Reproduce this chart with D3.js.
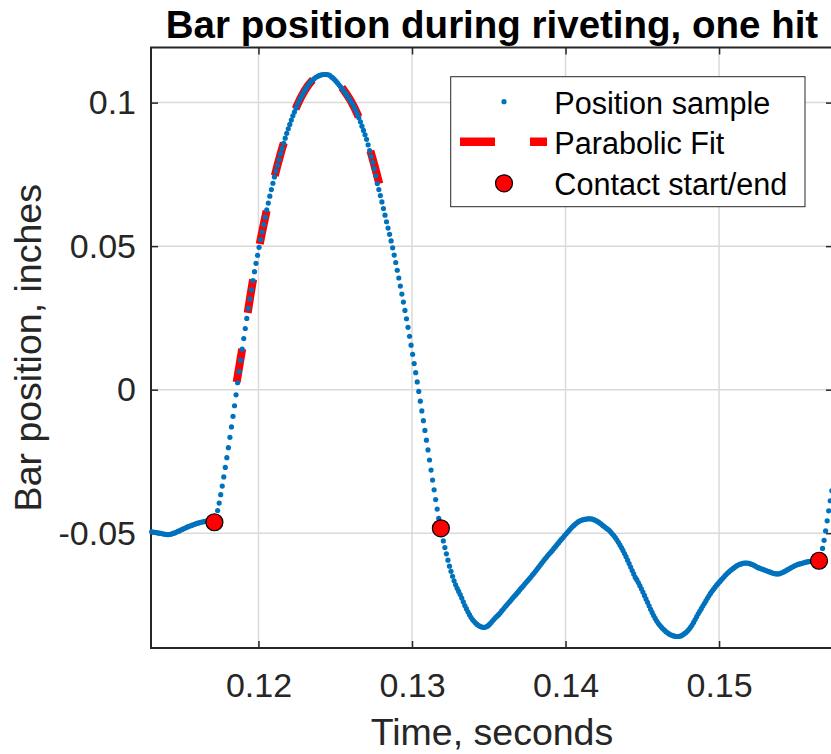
<!DOCTYPE html>
<html lang="en">
<head>
<meta charset="utf-8">
<title>Bar position during riveting, one hit</title>
<script src="https://d3js.org/d3.v7.min.js"></script>
<style>
body{margin:0;background:#fff;}
svg{display:block;font-family:"Liberation Sans", Arial, Helvetica, sans-serif;}
</style>
</head>
<body>
<script>
// position samples (inches), taken every 0.1 ms starting at sampleStart
var sampleStart = 0.11304,
    sampleStep = 0.0001;

var positionValues = [
  -0.0495,-0.0496,-0.0497,-0.0498,-0.0499,-0.0500,-0.0501,-0.0502,-0.0503,-0.0504,
  -0.0505,-0.0505,-0.0504,-0.0503,-0.0501,-0.0499,-0.0497,-0.0494,-0.0492,-0.0489,
  -0.0487,-0.0484,-0.0482,-0.0479,-0.0477,-0.0475,-0.0473,-0.0471,-0.0469,-0.0467,
  -0.0465,-0.0464,-0.0462,-0.0461,-0.0460,-0.0459,-0.0458,-0.0458,-0.0458,-0.0459,
  -0.0460,-0.0462,
  -0.0445,-0.0421,-0.0395,-0.0366,-0.0336,-0.0304,-0.0271,-0.0237,
  -0.0202,-0.0166,-0.0130,-0.0093,-0.0056,-0.0018,
  0.0024,0.0063,0.0102,0.0141,0.0178,0.0213,0.0248,0.0283,0.0316,0.0348,
  0.0380,0.0411,0.0440,0.0468,0.0496,0.0523,0.0549,0.0575,0.0601,0.0626,
  0.0650,0.0674,0.0697,0.0719,0.0741,0.0762,0.0782,0.0802,0.0822,0.0840,
  0.0858,0.0876,0.0893,0.0909,0.0924,0.0939,0.0954,0.0967,0.0980,0.0993,
  0.1005,0.1016,0.1026,0.1036,0.1045,0.1053,0.1061,0.1068,0.1074,0.1079,
  0.1084,0.1088,0.1091,0.1094,0.1096,0.1097,0.1098,0.1098,0.1098,
  0.1097,0.1095,0.1090,0.1086,0.1081,0.1075,0.1069,0.1062,0.1056,0.1049,
  0.1042,0.1035,0.1027,0.1019,0.1011,0.1002,0.0993,0.0983,0.0972,0.0960,
  0.0947,0.0933,0.0918,0.0903,0.0888,0.0872,0.0853,0.0833,0.0812,0.0791,
  0.0770,0.0745,0.0718,
  0.0697,0.0676,0.0654,0.0631,0.0608,0.0585,0.0563,0.0541,0.0518,0.0494,
  0.0469,0.0443,0.0416,0.0389,0.0361,0.0333,0.0305,0.0276,0.0247,0.0217,
  0.0186,0.0155,0.0123,0.0091,0.0059,0.0027,-0.0006,-0.0040,-0.0074,-0.0108,
  -0.0142,-0.0176,-0.0210,-0.0245,-0.0280,-0.0315,-0.0349,-0.0383,-0.0416,-0.0448,
  -0.0478,-0.0505,
  -0.0527,-0.0550,-0.0572,-0.0594,-0.0615,-0.0633,-0.0650,-0.0666,-0.0680,-0.0692,
  -0.0703,-0.0714,-0.0726,-0.0739,-0.0752,-0.0763,-0.0774,-0.0784,-0.0793,-0.0801,
  -0.0807,-0.0813,-0.0818,-0.0822,-0.0825,-0.0827,-0.0828,-0.0828,-0.0826,-0.0823,
  -0.0818,-0.0812,-0.0806,-0.0800,-0.0794,-0.0789,-0.0784,-0.0778,-0.0771,-0.0765,
  -0.0758,-0.0752,-0.0746,-0.0740,-0.0734,-0.0727,-0.0721,-0.0715,-0.0709,-0.0703,
  -0.0696,-0.0690,-0.0684,-0.0677,-0.0671,-0.0665,-0.0659,-0.0653,-0.0646,-0.0640,
  -0.0633,-0.0626,-0.0619,-0.0612,-0.0605,-0.0598,-0.0591,-0.0585,-0.0578,-0.0572,
  -0.0566,-0.0560,-0.0553,-0.0547,-0.0540,-0.0534,-0.0527,-0.0521,-0.0515,-0.0508,
  -0.0502,-0.0496,-0.0490,-0.0484,-0.0478,-0.0473,-0.0468,-0.0464,-0.0460,-0.0457,
  -0.0455,-0.0453,-0.0452,-0.0451,-0.0450,-0.0450,-0.0450,-0.0451,-0.0453,-0.0455,
  -0.0458,-0.0461,-0.0465,-0.0469,-0.0474,-0.0478,-0.0482,-0.0486,-0.0490,-0.0496,
  -0.0502,-0.0508,-0.0515,-0.0523,-0.0532,-0.0541,-0.0550,-0.0560,-0.0571,-0.0582,
  -0.0594,-0.0606,-0.0618,-0.0630,-0.0642,-0.0654,-0.0662,-0.0672,-0.0683,-0.0694,
  -0.0705,-0.0717,-0.0729,-0.0741,-0.0753,-0.0765,-0.0776,-0.0787,-0.0797,-0.0806,
  -0.0814,-0.0821,-0.0827,-0.0833,-0.0838,-0.0843,-0.0847,-0.0851,-0.0854,-0.0856,
  -0.0858,-0.0859,-0.0860,-0.0860,-0.0859,-0.0857,-0.0854,-0.0850,-0.0846,-0.0841,
  -0.0835,-0.0828,-0.0820,-0.0811,-0.0801,-0.0791,-0.0781,-0.0772,-0.0763,-0.0754,
  -0.0745,-0.0736,-0.0727,-0.0718,-0.0710,-0.0702,-0.0695,-0.0688,-0.0681,-0.0675,
  -0.0669,-0.0663,-0.0657,-0.0651,-0.0645,-0.0640,-0.0635,-0.0630,-0.0626,-0.0622,
  -0.0618,-0.0614,-0.0611,-0.0609,-0.0607,-0.0605,-0.0604,-0.0604,-0.0604,-0.0605,
  -0.0607,-0.0609,-0.0611,-0.0614,-0.0617,-0.0620,-0.0622,-0.0624,-0.0626,-0.0628,
  -0.0630,-0.0632,-0.0634,-0.0636,-0.0638,-0.0640,-0.0641,-0.0642,-0.0642,-0.0641,
  -0.0639,-0.0637,-0.0634,-0.0631,-0.0628,-0.0625,-0.0622,-0.0619,-0.0616,-0.0613,
  -0.0611,-0.0609,-0.0607,-0.0606,-0.0604,-0.0603,-0.0601,-0.0600,-0.0599,-0.0598,
  -0.0597,-0.0597,-0.0596,-0.0596,-0.0596,-0.0594,-0.0575,-0.0553,-0.0525,-0.0492,
  -0.0457,-0.0422,-0.0387,-0.0352
];

// parabolic fit of the free flight part
var fitTimes  = [0.11858,0.1190,0.1195,0.1200,0.1205,0.1210,0.1215,0.1220,0.1225,0.1230,
                 0.1235,0.1240,0.1245,0.1250,0.1255,0.1260,0.1265,0.1270,0.1275,0.12795];
var fitValues = [0.0026,0.0163,0.0336,0.0485,0.0616,0.0732,0.0833,0.0918,0.0988,0.1041,
                 0.1077,0.1096,0.1098,0.1080,0.1048,0.1007,0.0953,0.0881,0.0792,0.0700];

// contact start / end
var contactTimes  = [0.11713, 0.13188, 0.15651];
var contactValues = [-0.0462, -0.0483, -0.0596];

var xTicks = [0.12, 0.13, 0.14, 0.15];
var yTicks = [-0.05, 0, 0.05, 0.1];
var legendLabels = ["Position sample", "Parabolic Fit", "Contact start/end"];

var width = 831, height = 754;
var box = {left: 151, right: 833, top: 47.5, bottom: 648};
var blue = "#0072BD", axisColor = "#262626";

var samples = positionValues.map(function(v, i) {
  return {t: sampleStart + i * sampleStep, v: v};
});
var fit = fitTimes.map(function(t, i) { return {t: t, v: fitValues[i]}; });
var contacts = contactTimes.map(function(t, i) { return {t: t, v: contactValues[i]}; });

var svg = d3.select("body").append("svg")
  .attr("width", width)
  .attr("height", height);

var x = d3.scaleLinear().domain([0.1130, 0.15742]).range([box.left, box.right]);
var y = d3.scaleLinear().domain([-0.09, 0.1192]).range([box.bottom, box.top]);

// grid
svg.append("g").selectAll("line").data(xTicks).enter().append("line")
  .attr("x1", function(d) { return x(d); }).attr("x2", function(d) { return x(d); })
  .attr("y1", box.top).attr("y2", box.bottom)
  .attr("stroke", "#dadada").attr("stroke-width", 1.5);
svg.append("g").selectAll("line").data(yTicks).enter().append("line")
  .attr("y1", function(d) { return y(d); }).attr("y2", function(d) { return y(d); })
  .attr("x1", box.left).attr("x2", box.right)
  .attr("stroke", "#dadada").attr("stroke-width", 1.5);

// axes (ticks pointing inward)
function styleAxis(g) {
  g.select(".domain").remove();
  g.selectAll(".tick line").attr("stroke", axisColor).attr("stroke-width", 1.5);
  g.selectAll(".tick text").attr("fill", axisColor).attr("font-size", 34)
    .attr("font-family", "'Liberation Sans', Arial, sans-serif");
}
svg.append("g").attr("transform", "translate(0," + box.bottom + ")")
  .call(d3.axisBottom(x).tickValues(xTicks).tickSizeInner(-7).tickSizeOuter(0)
    .tickPadding(25).tickFormat(function(d) { return d.toFixed(2); }))
  .call(styleAxis);
svg.append("g").attr("transform", "translate(0," + box.top + ")")
  .call(d3.axisTop(x).tickValues(xTicks).tickSizeInner(-7).tickSizeOuter(0).tickFormat(""))
  .call(styleAxis);
svg.append("g").attr("transform", "translate(" + box.left + ",0)")
  .call(d3.axisLeft(y).tickValues(yTicks).tickSizeInner(-7).tickSizeOuter(0)
    .tickPadding(15).tickFormat(function(d) { return String(d); }))
  .call(styleAxis);
svg.append("g").attr("transform", "translate(" + box.right + ",0)")
  .call(d3.axisRight(y).tickValues(yTicks).tickSizeInner(-7).tickSizeOuter(0).tickFormat(""))
  .call(styleAxis);

// box
svg.append("rect")
  .attr("x", box.left).attr("y", box.top)
  .attr("width", box.right - box.left).attr("height", box.bottom - box.top)
  .attr("fill", "none").attr("stroke", axisColor).attr("stroke-width", 2);

// parabolic fit, dashed red
var fitLine = d3.line()
  .x(function(d) { return x(d.t); })
  .y(function(d) { return y(d.v); })
  .curve(d3.curveNatural);
svg.append("path").datum(fit)
  .attr("d", fitLine)
  .attr("fill", "none").attr("stroke", "#ff0000")
  .attr("stroke-width", 8).attr("stroke-dasharray", "34,36");

// position samples
svg.append("g").selectAll("circle").data(samples).enter().append("circle")
  .attr("cx", function(d) { return x(d.t); })
  .attr("cy", function(d) { return y(d.v); })
  .attr("r", 2.6)
  .attr("fill", blue);

// contact points
svg.append("g").selectAll("circle").data(contacts).enter().append("circle")
  .attr("cx", function(d) { return x(d.t); })
  .attr("cy", function(d) { return y(d.v); })
  .attr("r", 8.5)
  .attr("fill", "#ff0000").attr("stroke", "#000").attr("stroke-width", 1.2);

// legend
var lg = svg.append("g");
lg.append("rect")
  .attr("x", 450.7).attr("y", 76.7).attr("width", 354.3).attr("height", 130)
  .attr("fill", "#fff").attr("stroke", axisColor).attr("stroke-width", 1);
lg.append("circle").attr("cx", 504).attr("cy", 101.7).attr("r", 2.6).attr("fill", blue);
lg.append("line").attr("x1", 460).attr("x2", 547).attr("y1", 141.7).attr("y2", 141.7)
  .attr("stroke", "#ff0000").attr("stroke-width", 8.5).attr("stroke-dasharray", "35,35");
lg.append("circle").attr("cx", 504).attr("cy", 183.3).attr("r", 8.5)
  .attr("fill", "#ff0000").attr("stroke", "#000").attr("stroke-width", 1.2);
lg.selectAll("text").data(legendLabels).enter().append("text")
  .attr("x", 554.3)
  .attr("y", function(d, i) { return 113.7 + i * 40.7; })
  .attr("font-size", 30.6)
  .attr("fill", "#000")
  .text(function(d) { return d; });

// title and axis labels
svg.append("text")
  .attr("x", (box.left + box.right) / 2).attr("y", 38)
  .attr("text-anchor", "middle").attr("font-size", 38.5).attr("font-weight", "bold")
  .attr("fill", "#000")
  .text("Bar position during riveting, one hit");
svg.append("text")
  .attr("x", (box.left + box.right) / 2).attr("y", 745)
  .attr("text-anchor", "middle").attr("font-size", 37.5).attr("fill", axisColor)
  .text("Time, seconds");
svg.append("text")
  .attr("transform", "rotate(-90)")
  .attr("x", -(box.top + box.bottom) / 2).attr("y", 41)
  .attr("text-anchor", "middle").attr("font-size", 37.5).attr("fill", axisColor)
  .text("Bar position, inches");
</script>
</body>
</html>
